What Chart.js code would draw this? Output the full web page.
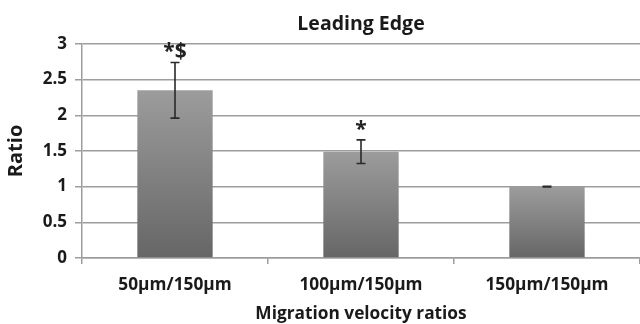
<!DOCTYPE html>
<html>
<head>
<meta charset="utf-8">
<script src="https://cdn.jsdelivr.net/npm/chart.js@4"></script>
<style>
html,body{margin:0;padding:0;background:#fff;overflow:hidden;}
#wrap{width:640px;height:324px;}
</style>
</head>
<body>
<div id="wrap"><canvas id="c" width="640" height="324"></canvas></div>
<script>
const categories = ["50µm/150µm", "100µm/150µm", "150µm/150µm"];
const ratios = [2.35, 1.49, 1.0];
const errors = [0.39, 0.165, 0.005];
const marks = ["*$", "*", ""];
const yTicks = [0, 0.5, 1, 1.5, 2, 2.5, 3];

const FONT = "'Open Sans', 'DejaVu Sans', sans-serif";
const GRID = "#9d9d9d";

const errorBarPlugin = {
  id: 'errorBars',
  afterDatasetsDraw(chart) {
    const ctx = chart.ctx;
    const meta = chart.getDatasetMeta(0);
    const y = chart.scales.y;
    ctx.save();
    meta.data.forEach((bar, i) => {
      const v = ratios[i], e = errors[i];
      const top = y.getPixelForValue(v + e);
      const bot = y.getPixelForValue(v - e);
      const x = bar.x;
      ctx.strokeStyle = "#2a2a2a";
      ctx.lineWidth = 1.6;
      ctx.beginPath();
      ctx.moveTo(x, top); ctx.lineTo(x, bot);
      ctx.moveTo(x - 4.5, top); ctx.lineTo(x + 4.5, top);
      ctx.moveTo(x - 4.5, bot); ctx.lineTo(x + 4.5, bot);
      ctx.stroke();
      if (marks[i]) {
        ctx.fillStyle = "#222";
        ctx.font = "bold 21px " + FONT;
        ctx.textAlign = "center";
        ctx.textBaseline = "alphabetic";
        ctx.fillText(marks[i], x, top - 4);
      }
    });
    ctx.restore();
  }
};

new Chart(document.getElementById('c'), {
  type: 'bar',
  data: {
    labels: categories,
    datasets: [{
      data: ratios,
      backgroundColor(context) {
        const chart = context.chart;
        const area = chart.chartArea;
        if (!area) return "#888";
        const yS = chart.scales.y;
        const v = context.raw;
        const t = yS.getPixelForValue(v);
        const b = yS.getPixelForValue(0);
        const g = chart.ctx.createLinearGradient(0, t, 0, b);
        g.addColorStop(0, "#9c9c9c");
        g.addColorStop(1, "#666666");
        return g;
      },
      borderWidth: 0,
      categoryPercentage: 1.0,
      barPercentage: 0.405
    }]
  },
  options: {
    responsive: false,
    animation: false,
    layout: { padding: { top: 0, right: 0, left: 0, bottom: 0 } },
    plugins: {
      legend: { display: false },
      tooltip: { enabled: false },
      title: {
        display: true,
        text: "Leading Edge",
        fullSize: false,
        color: "#1a1a1a",
        font: { family: FONT, size: 19.5, weight: 'bold' },
        padding: { top: 13, bottom: 7.5 }
      }
    },
    scales: {
      x: {
        offset: true,
        grid: { display: true, drawOnChartArea: false, drawTicks: true, tickLength: 6, color: GRID, lineWidth: 1.5 },
        border: { display: true, color: GRID, width: 1.5 },
        ticks: { color: "#1a1a1a", font: { family: FONT, size: 17.3, weight: 'bold' }, padding: 11, maxRotation: 0 },
        title: { display: true, text: "Migration velocity ratios", color: "#1a1a1a",
                 font: { family: FONT, size: 17.3, weight: 'bold' }, padding: { top: 8, bottom: 0 } },
        afterFit(s) { s.height = 66; }
      },
      y: {
        min: 0, max: 3,
        afterBuildTicks(s) { s.ticks = yTicks.map(v => ({ value: v })); },
        grid: { color: GRID, lineWidth: 1.5, tickLength: 7, drawTicks: true },
        border: { display: true, color: GRID, width: 1.5 },
        ticks: { color: "#1a1a1a", font: { family: FONT, size: 17, weight: 'bold' }, padding: 8,
                 callback: (v) => String(v) },
        title: { display: true, text: "Ratio", color: "#1a1a1a",
                 font: { family: FONT, size: 20, weight: 'bold' }, padding: { top: 4, bottom: 0 } },
        afterFit(s) { s.width = 82; }
      }
    }
  },
  plugins: [errorBarPlugin]
});
</script>
</body>
</html>
